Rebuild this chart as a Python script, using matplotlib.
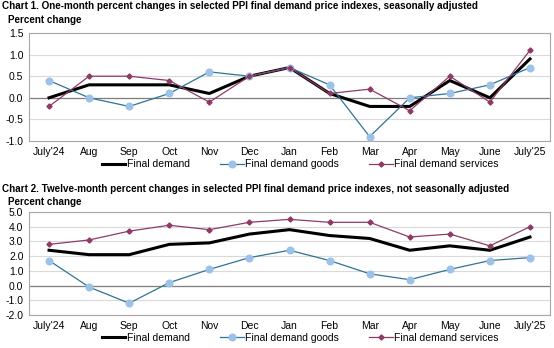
import numpy as np
import matplotlib.pyplot as plt

# month labels shared by both panels
months = ["July'24", "Aug", "Sep", "Oct", "Nov", "Dec", "Jan",
          "Feb", "Mar", "Apr", "May", "June", "July'25"]

# one-month percent changes, seasonally adjusted
m_final = [0.0, 0.3, 0.3, 0.3, 0.1, 0.5, 0.7, 0.1, -0.2, -0.2, 0.4, 0.0, 0.9]
m_goods = [0.4, 0.0, -0.2, 0.1, 0.6, 0.5, 0.7, 0.3, -0.9, 0.0, 0.1, 0.3, 0.7]
m_services = [-0.2, 0.5, 0.5, 0.4, -0.1, 0.5, 0.7, 0.1, 0.2, -0.3, 0.5, -0.1, 1.1]

# twelve-month percent changes, not seasonally adjusted
y_final = [2.4, 2.1, 2.1, 2.8, 2.9, 3.5, 3.8, 3.4, 3.2, 2.4, 2.7, 2.4, 3.3]
y_goods = [1.7, -0.1, -1.2, 0.2, 1.1, 1.9, 2.4, 1.7, 0.8, 0.4, 1.1, 1.7, 1.9]
y_services = [2.8, 3.1, 3.7, 4.1, 3.8, 4.3, 4.5, 4.3, 4.3, 3.3, 3.5, 2.7, 4.0]

plt.rcParams['font.family'] = ['Liberation Sans', 'DejaVu Sans']

W, H = 554, 348
fig = plt.figure(figsize=(W / 100, H / 100), dpi=100)

GOODS_LINE = '#2f7396'
GOODS_FACE = '#9cc2e8'
SERV = '#8e3a66'
GRID = '#d9d9d9'
FRAME = '#a6a6a6'


def px_axes(left, top, right, bottom):
    return fig.add_axes([left / W, 1 - bottom / H, (right - left) / W, (bottom - top) / H])


def panel(ax, final, goods, services, ylim, step, fmt):
    x = np.arange(len(months))
    yt = np.arange(ylim[0], ylim[1] + step / 2, step)
    for v in yt:
        ax.axhline(v, color=GRID, lw=0.8, zorder=0)
    ax.axhline(0, color='#808080', lw=0.9, zorder=1)
    ax.plot(x, final, color='black', lw=2.2, label='Final demand', zorder=3)
    ax.plot(x, goods, color=GOODS_LINE, lw=0.9, marker='o', ms=4.8,
            mfc=GOODS_FACE, mec=GOODS_FACE, label='Final demand goods', zorder=4)
    ax.plot(x, services, color=SERV, lw=0.9, marker='D', ms=2.6,
            mfc=SERV, mec=SERV, label='Final demand services', zorder=5)
    ax.set_xlim(-0.5, len(months) - 0.5)
    ax.set_ylim(*ylim)
    ax.set_yticks(yt)
    ax.set_yticklabels([fmt.format(v) for v in yt])
    ax.set_xticks(x)
    ax.set_xticklabels(months)
    ax.tick_params(length=0, labelsize=7.5, pad=4)
    for s in ax.spines.values():
        s.set_color(FRAME)
        s.set_linewidth(0.8)
    ax.legend(loc='upper center', bbox_to_anchor=(0.52, -0.13), ncol=3,
              frameon=False, fontsize=7.5, handlelength=2.3, handletextpad=0.1,
              columnspacing=2.9, borderaxespad=0)


# chart 1
fig.text(2 / W, 1 - 6 / H, 'Chart 1. One-month percent changes in selected PPI final demand price indexes, seasonally adjusted',
         fontsize=7.1, fontweight='bold', va='center', ha='left')
fig.text(8 / W, 1 - 20 / H, 'Percent change', fontsize=7.1, fontweight='bold', va='center', ha='left')
ax1 = px_axes(29, 33, 550, 141)
panel(ax1, m_final, m_goods, m_services, (-1.0, 1.5), 0.5, '{:.1f}')

# chart 2
fig.text(2 / W, 1 - 189 / H, 'Chart 2. Twelve-month percent changes in selected PPI final demand price indexes, not seasonally adjusted',
         fontsize=7.1, fontweight='bold', va='center', ha='left')
fig.text(8 / W, 1 - 202 / H, 'Percent change', fontsize=7.1, fontweight='bold', va='center', ha='left')
ax2 = px_axes(29, 212, 550, 315)
panel(ax2, y_final, y_goods, y_services, (-2.0, 5.0), 1.0, '{:.1f}')

fig.savefig('out.png', dpi=100)
